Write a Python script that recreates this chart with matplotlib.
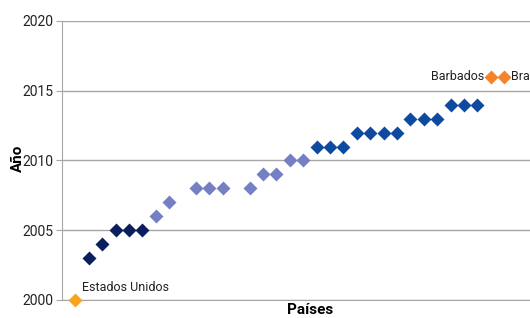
import matplotlib.pyplot as plt

plt.rcParams['font.family'] = ['Roboto', 'DejaVu Sans']

# posiciones en el eje de países (hay huecos) y año de cada punto
x_oscuro = [2, 3, 4, 5, 6]
y_oscuro = [2003, 2004, 2005, 2005, 2005]

x_claro = [7, 8, 10, 11, 12, 14, 15, 16, 17, 18]
y_claro = [2006, 2007, 2008, 2008, 2008, 2008, 2009, 2009, 2010, 2010]

x_medio = [19, 20, 21, 22, 23, 24, 25, 26, 27, 28, 29, 30, 31]
y_medio = [2011, 2011, 2011, 2012, 2012, 2012, 2012, 2013, 2013, 2013, 2014, 2014, 2014]

x_eeuu = [1]
y_eeuu = [2000]

x_naranja = [32, 33]
y_naranja = [2016, 2016]
nombres_naranja = ['Barbados', 'Brasil']

fig = plt.figure(figsize=(5.3, 3.18), dpi=100)
ax = fig.add_axes([62 / 530, 18 / 318, 1 - 62 / 530, (300 - 21) / 318])

ms = 7
ax.plot(x_oscuro, y_oscuro, 'D', color='#0b1f5e', ms=ms, mec='none')
ax.plot(x_claro, y_claro, 'D', color='#7480c3', ms=ms, mec='none')
ax.plot(x_medio, y_medio, 'D', color='#0e4aa0', ms=ms, mec='none')
ax.plot(x_eeuu, y_eeuu, 'D', color='#f8a51c', ms=ms, mec='none', clip_on=False, zorder=5)
ax.plot(x_naranja, y_naranja, 'D', color='#f5832b', ms=ms, mec='none')

ax.annotate('Estados Unidos', (x_eeuu[0], y_eeuu[0]), xytext=(5, 4),
            textcoords='offset points', fontsize=9, ha='left', va='bottom', color='#222222')
ax.annotate(nombres_naranja[0], (x_naranja[0], y_naranja[0]), xytext=(-5, 0),
            textcoords='offset points', fontsize=9, ha='right', va='center', color='#222222')
ax.annotate(nombres_naranja[1], (x_naranja[1], y_naranja[1]), xytext=(5, 0),
            textcoords='offset points', fontsize=9, ha='left', va='center', color='#222222',
            annotation_clip=False)

ax.set_xlim(0, (530 - 62) / 13.4)
ax.set_ylim(2000, 2020)
ax.set_yticks([2000, 2005, 2010, 2015, 2020])
ax.set_xticks([])
ax.grid(axis='y', color='#a6a6a6', lw=1)
ax.set_axisbelow(True)
for s in ['top', 'right']:
    ax.spines[s].set_visible(False)
ax.spines['left'].set_color('#a6a6a6')
ax.spines['bottom'].set_color('#a6a6a6')
ax.tick_params(axis='y', length=4, color='#a6a6a6', labelsize=10, labelcolor='#222222', pad=2)

fig.text(18 / 530, 1 - 158 / 318, 'Año', rotation=90, ha='center', va='center',
         fontsize=11, fontweight='bold')
fig.text(310 / 530, 1 - 310 / 318, 'Países', ha='center', va='center',
         fontsize=11, fontweight='bold')

fig.savefig('out.png', dpi=100)
